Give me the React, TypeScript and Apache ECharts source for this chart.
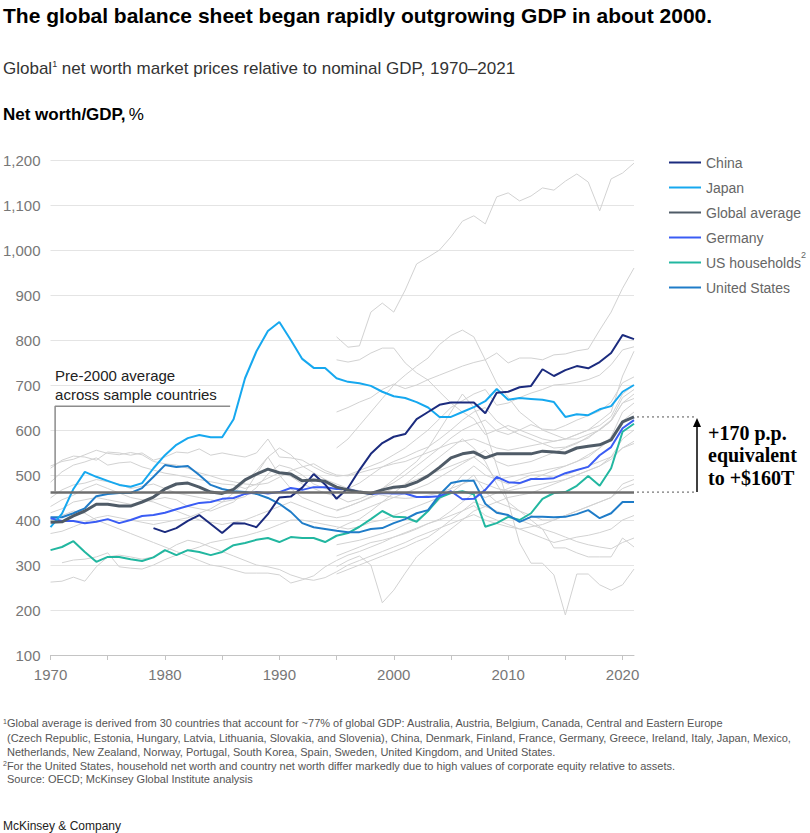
import React, { useEffect, useRef } from 'react';
import * as echarts from 'echarts';

// ---------- data ----------
const START_YEAR = 1970;
const END_YEAR = 2021;

const CHINA_START = 1979;
const CHINA = [382, 373, 382, 398, 411, 391, 371, 393, 392, 384, 413, 450, 452, 472, 502, 479, 447, 471, 511, 547, 571, 585, 591, 624, 640, 656, 661, 661, 661, 637, 683, 685, 695, 698, 735, 720, 733, 742, 737, 751, 771, 811, 802];

const JAPAN = [384, 414, 469, 507, 496, 487, 478, 474, 482, 515, 544, 567, 582, 589, 584, 584, 624, 715, 775, 820, 840, 800, 758, 738, 738, 715, 707, 704, 698, 685, 675, 671, 662, 650, 629, 629, 640, 651, 664, 691, 667, 671, 669, 667, 662, 629, 635, 633, 646, 653, 685, 700];

const GLOBAL_AVG = [395, 396, 409, 420, 435, 435, 431, 431, 440, 451, 469, 480, 482, 473, 462, 459, 468, 489, 502, 513, 505, 502, 487, 489, 486, 473, 467, 462, 459, 467, 473, 475, 484, 498, 517, 538, 547, 551, 538, 547, 547, 547, 547, 553, 551, 549, 560, 564, 567, 578, 618, 629];

const GERMANY = [404, 398, 398, 393, 396, 402, 393, 400, 409, 411, 416, 424, 431, 438, 440, 447, 449, 458, 462, 459, 462, 471, 467, 473, 473, 469, 469, 462, 458, 460, 459, 459, 451, 451, 453, 464, 446, 447, 467, 496, 484, 482, 491, 491, 493, 504, 511, 518, 544, 562, 604, 622];

const US_HOUSEHOLDS = [333, 340, 353, 329, 307, 318, 318, 313, 309, 317, 333, 322, 333, 329, 322, 329, 344, 349, 356, 360, 351, 362, 360, 360, 351, 365, 371, 385, 402, 420, 407, 406, 396, 420, 450, 460, 464, 457, 385, 393, 407, 400, 415, 447, 460, 462, 476, 498, 476, 515, 596, 614];

const UNITED_STATES = [406, 406, 415, 426, 453, 458, 460, 460, 471, 496, 522, 518, 520, 500, 478, 469, 464, 462, 458, 449, 436, 418, 393, 384, 380, 376, 373, 373, 380, 382, 393, 402, 415, 422, 456, 482, 487, 487, 436, 416, 411, 396, 407, 407, 406, 407, 413, 422, 404, 415, 440, 440];

// other sample countries (grey), from 1970
const GREY_FROM_1970 = [
  [515, 533, 542, 540, 533, 551, 549, 544, 549, 533, 540, 551, 549, 558, 544, 549, 544, 540, 549, 580, 540, 538, 533, 518, 505, 497, 500, 510, 520, 530, 545, 560, 580, 600, 625, 650, 665, 680, 690, 655, 660, 672, 682, 690, 700, 702, 706, 712, 722, 745, 778, 785],
  [484, 507, 522, 529, 538, 522, 527, 529, 518, 511, 504, 500, 495, 490, 485, 480, 478, 470, 480, 493, 505, 497, 480, 470, 460, 452, 440, 447, 458, 470, 483, 500, 520, 540, 560, 582, 600, 612, 622, 598, 590, 600, 612, 602, 600, 610, 622, 632, 642, 662, 705, 718],
  [449, 467, 478, 482, 490, 485, 480, 470, 475, 480, 470, 460, 455, 450, 445, 440, 445, 452, 472, 502, 522, 515, 500, 480, 470, 462, 470, 482, 500, 518, 530, 540, 552, 562, 580, 600, 622, 640, 650, 620, 602, 590, 580, 570, 560, 562, 572, 582, 602, 622, 672, 690],
  [416, 425, 440, 445, 450, 445, 440, 435, 440, 445, 450, 445, 430, 425, 420, 430, 440, 462, 502, 540, 500, 470, 450, 440, 430, 422, 430, 440, 450, 460, 470, 480, 490, 500, 510, 520, 530, 540, 520, 490, 480, 490, 500, 500, 495, 500, 510, 520, 530, 540, 560, 570],
  [262, 264, 273, 264, 296, 318, 322, 318, 313, 318, 330, 345, 355, 350, 340, 330, 320, 310, 300, 296, 290, 278, 270, 266, 272, 285, 300, 310, 320, 330, 340, 350, 362, 372, 382, 392, 402, 412, 400, 392, 385, 380, 385, 390, 400, 410, 420, 430, 440, 450, 470, 480],
  [null, 305, 311, 313, 318, 327, 296, 293, 291, 300, 312, 322, 332, 340, 350, 355, 360, 365, 372, 380, 390, 400, 400, 395, 390, 385, 380, 385, 395, 400, 410, 420, 430, 440, 450, 460, 480, 500, 462, 440, 430, 420, 410, 400, 400, 410, 420, 430, 440, 450, 480, 490],
  [400, 410, 420, 415, 400, 390, 380, 370, 360, 350, 340, 330, 320, 310, 300, 296, 289, 282, 282, 282, 278, 260, 267, 276, 296, 310, 322, 330, 340, 350, 362, 370, 380, 392, 400, 410, 420, 432, 410, 400, 390, 380, 370, 360, 350, 356, 362, 366, 372, 380, 400, 410],
  [430, 445, 455, 470, 480, 470, 460, 450, 445, 440, 430, 420, 410, 400, 395, 390, 395, 400, 410, 420, 430, 440, 430, 420, 410, 405, 410, 420, 430, 440, 450, 460, 470, 480, 495, 510, 525, 540, 555, 530, 520, 525, 530, 540, 550, 560, 570, 585, 600, 620, 660, 670],
  [520, 530, 535, 545, 555, 548, 545, 550, 545, 530, 525, 522, 515, 505, 498, 490, 485, 480, 478, 482, 495, 510, 518, 525, 510, 500, 498, 505, 512, 518, 525, 530, 540, 550, 560, 570, 575, 580, 570, 560, 555, 560, 565, 570, 575, 580, 590, 600, 610, 630, 680, 700],
  [370, 375, 385, 395, 405, 410, 405, 400, 395, 390, 395, 400, 405, 415, 425, 440, 460, 485, 510, 540, 560, 545, 520, 505, 490, 480, 470, 465, 460, 455, 450, 448, 450, 455, 460, 470, 480, 490, 480, 470, 465, 470, 475, 480, 485, 490, 500, 510, 520, 535, 560, 575],
];

// other sample countries (grey), from 1995
const GREY_START_1995 = 1995;
const GREY_FROM_1995 = [
  [807, 784, 787, 862, 882, 862, 911, 969, 984, 1000, 1029, 1064, 1076, 1058, 1118, 1127, 1109, 1120, 1138, 1133, 1153, 1169, 1151, 1087, 1158, 1171, 1193],
  [756, 751, 756, 771, 782, 782, 749, 727, 711, 685, 660, 640, 625, 590, 600, 610, 600, 590, 580, 575, 580, 590, 600, 620, 640, 720, 775],
  [560, 580, 610, 640, 670, 700, 722, 742, 760, 790, 810, 822, 807, 756, 704, 673, 640, 620, 600, 590, 580, 580, 590, 600, 620, 660, 680],
  [640, 650, 662, 672, 690, 702, 692, 700, 712, 722, 732, 742, 750, 756, 771, 749, 760, 760, 756, 767, 769, 776, 780, 822, 862, 915, 960],
  [296, 310, 320, 300, 216, 244, 282, 318, 340, 360, 380, 400, 420, 430, 420, 410, 400, 390, 380, 372, 362, 352, 345, 340, 336, 350, 360],
  [420, 430, 440, 452, 470, 490, 510, 530, 560, 600, 640, 680, 650, 600, 520, 440, 349, 304, 304, 278, 189, 280, 280, 256, 244, 256, 291],
  [380, 392, 402, 420, 440, 460, 480, 500, 520, 540, 560, 580, 560, 530, 480, 440, 420, 400, 380, 338, 338, 327, 318, 318, 318, 360, 340],
  [280, 290, 300, 310, 320, 330, 340, 352, 362, 380, 400, 420, 440, 430, 440, 450, 455, 460, 470, 480, 490, 500, 510, 520, 540, 580, 600],
  [320, 330, 340, 350, 355, 362, 372, 382, 392, 402, 420, 440, 460, 450, 460, 470, 480, 490, 500, 510, 520, 530, 540, 560, 580, 620, 640],
  [345, 350, 355, 362, 370, 378, 390, 400, 420, 445, 470, 500, 520, 500, 490, 495, 500, 505, 510, 515, 520, 530, 545, 560, 585, 640, 660],
];

const PRE2000_AVG = 462;
const BRACKET_X = [1970.4, 1985.7];
const BRACKET_TOP = 653;

const Y_MIN = 100;
const Y_MAX = 1200;
const Y_STEP = 100;
const X_TICKS = [1970, 1975, 1980, 1985, 1990, 1995, 2000, 2005, 2010, 2015, 2020];
const X_LABELS = [1970, 1980, 1990, 2000, 2010, 2020];

const LEGEND_NAMES = ['China', 'Japan', 'Global average', 'Germany', 'US households', 'United States'];
const COLORS: Record<string, string> = {
  China: '#1b2b7e',
  Japan: '#16a8ef',
  'Global average': '#4f5b67',
  Germany: '#3a5cf4',
  'US households': '#22b7a0',
  'United States': '#1f7cc8',
};

const FOOTNOTES = [
  '{sup|1}Global average is derived from 30 countries that account for ~77% of global GDP: Australia, Austria, Belgium, Canada, Central and Eastern Europe',
  '(Czech Republic, Estonia, Hungary, Latvia, Lithuania, Slovakia, and Slovenia), China, Denmark, Finland, France, Germany, Greece, Ireland, Italy, Japan, Mexico,',
  'Netherlands, New Zealand, Norway, Portugal, South Korea, Spain, Sweden, United Kingdom, and United States.',
  '{sup|2}For the United States, household net worth and country net worth differ markedly due to high values of corporate equity relative to assets.',
  'Source: OECD; McKinsey Global Institute analysis',
];
const ANNOTATION = ['+170 p.p.', 'equivalent', 'to +$160T'];

const FONT = '"Liberation Sans", Arial, sans-serif';

function pairs(start: number, vals: (number | null)[]) {
  const out: [number, number][] = [];
  vals.forEach((v, i) => {
    if (v !== null) out.push([start + i, v]);
  });
  return out;
}

export default function App() {
  const ref = useRef<HTMLDivElement>(null);

  useEffect(() => {
    if (!ref.current) return;
    const chart = echarts.init(ref.current, null, { renderer: 'svg' });

    const greySeries: any[] = [];
    GREY_FROM_1970.forEach((vals, i) => {
      greySeries.push({
        name: 'g70_' + i,
        type: 'line',
        data: pairs(START_YEAR, vals),
        symbol: 'none',
        silent: true,
        z: 1,
        lineStyle: { color: '#d2d2d2', width: 1 },
      });
    });
    GREY_FROM_1995.forEach((vals, i) => {
      greySeries.push({
        name: 'g95_' + i,
        type: 'line',
        data: pairs(GREY_START_1995, vals),
        symbol: 'none',
        silent: true,
        z: 1,
        lineStyle: { color: '#d2d2d2', width: 1 },
      });
    });

    const main = (name: string, start: number, vals: number[], width: number, z: number) => ({
      name,
      type: 'line',
      data: pairs(start, vals),
      symbol: 'none',
      silent: true,
      z,
      color: COLORS[name],
      lineStyle: { color: COLORS[name], width },
    });

    const option: any = {
      animation: false,
      backgroundColor: '#ffffff',
      grid: { left: 50, right: 176, top: 160, bottom: 178, containLabel: false },
      xAxis: {
        type: 'value',
        min: START_YEAR,
        max: END_YEAR,
        interval: 5,
        axisLine: { show: true, lineStyle: { color: '#c4c4c4', width: 1 } },
        axisTick: { show: true, length: 5, lineStyle: { color: '#c4c4c4' }, customValues: X_TICKS },
        axisLabel: {
          customValues: X_LABELS,
          formatter: (v: number) => String(v),
          color: '#777',
          fontSize: 15,
          fontFamily: FONT,
          margin: 12,
        },
        splitLine: { show: false },
      },
      yAxis: {
        type: 'value',
        min: Y_MIN,
        max: Y_MAX,
        interval: Y_STEP,
        axisLine: { show: false },
        axisTick: { show: false },
        axisLabel: {
          formatter: (v: number) => v.toLocaleString('en-US'),
          color: '#777',
          fontSize: 15,
          fontFamily: FONT,
          margin: 10,
        },
        splitLine: { lineStyle: { color: '#e4e4e4', width: 1 } },
      },
      legend: {
        orient: 'vertical',
        left: 669,
        top: 150,
        padding: 0,
        icon: 'rect',
        itemWidth: 32,
        itemHeight: 2,
        itemGap: 0,
        selectedMode: false,
        data: LEGEND_NAMES,
        formatter: (name: string) => (name === 'US households' ? '{a|US households}{s|2}' : '{a|' + name + '}'),
        textStyle: {
          fontFamily: FONT,
          fontSize: 14,
          color: '#666',
          lineHeight: 25,
          rich: {
            a: { fontFamily: FONT, fontSize: 14, color: '#666', lineHeight: 25 },
            s: { fontFamily: FONT, fontSize: 9, color: '#666', verticalAlign: 'top', lineHeight: 18 },
          },
        },
      },
      series: [
        ...greySeries,
        main('US households', START_YEAR, US_HOUSEHOLDS, 2, 3),
        main('United States', START_YEAR, UNITED_STATES, 2, 3),
        main('Germany', START_YEAR, GERMANY, 2, 3),
        main('Japan', START_YEAR, JAPAN, 2, 3),
        main('China', CHINA_START, CHINA, 2, 3),
        main('Global average', START_YEAR, GLOBAL_AVG, 3, 4),
        {
          name: 'bracket',
          type: 'line',
          data: [
            [BRACKET_X[0], PRE2000_AVG],
            [BRACKET_X[0], BRACKET_TOP],
            [BRACKET_X[1], BRACKET_TOP],
          ],
          symbol: 'none',
          silent: true,
          z: 5,
          lineStyle: { color: '#8c8c8c', width: 1.5 },
          markLine: {
            silent: true,
            symbol: 'none',
            label: { show: false },
            lineStyle: { color: '#6e6e6e', width: 2.5, type: 'solid' },
            data: [{ yAxis: PRE2000_AVG }],
          },
        },
      ],
    };

    chart.setOption(option);

    const toPx = (x: number, y: number) => chart.convertToPixel({ gridIndex: 0 }, [x, y]) as number[];
    const [xEnd, yTop] = toPx(END_YEAR, GLOBAL_AVG[GLOBAL_AVG.length - 1]);
    const [, yBase] = toPx(END_YEAR, PRE2000_AVG);
    const [bx, by] = toPx(BRACKET_X[0], BRACKET_TOP);
    const arrowX = 697;

    const graphics: any[] = [
      {
        type: 'text',
        x: 3,
        y: 15,
        style: { text: 'The global balance sheet began rapidly outgrowing GDP in about 2000.', font: 'bold 21px ' + FONT, fill: '#000', verticalAlign: 'middle' },
      },
      {
        type: 'text',
        x: 3,
        y: 68,
        style: {
          text: 'Global{sup|1} net worth market prices relative to nominal GDP, 1970\u20132021',
          font: '17px ' + FONT,
          fill: '#333',
          verticalAlign: 'middle',
          rich: { sup: { fontSize: 9, fontFamily: FONT, fill: '#333', verticalAlign: 'top', lineHeight: 17 } },
        },
      },
      {
        type: 'text',
        x: 3,
        y: 114,
        style: {
          text: '{b|Net worth/GDP,} {r|%}',
          verticalAlign: 'middle',
          rich: {
            b: { fontSize: 17, fontFamily: FONT, fontWeight: 'bold', fill: '#000' },
            r: { fontSize: 17, fontFamily: FONT, fill: '#000' },
          },
        },
      },
      {
        type: 'text',
        x: bx,
        y: by - 31,
        style: { text: 'Pre-2000 average', font: '15px ' + FONT, fill: '#222', verticalAlign: 'middle' },
      },
      {
        type: 'text',
        x: bx,
        y: by - 12,
        style: { text: 'across sample countries', font: '15px ' + FONT, fill: '#222', verticalAlign: 'middle' },
      },
      {
        type: 'line',
        shape: { x1: xEnd + 3, y1: yTop, x2: arrowX - 3, y2: yTop },
        style: { stroke: '#555', lineWidth: 1, lineDash: [2, 3] },
      },
      {
        type: 'line',
        shape: { x1: xEnd + 3, y1: yBase, x2: arrowX - 3, y2: yBase },
        style: { stroke: '#555', lineWidth: 1, lineDash: [2, 3] },
      },
      {
        type: 'line',
        shape: { x1: arrowX, y1: yBase, x2: arrowX, y2: yTop + 8 },
        style: { stroke: '#000', lineWidth: 1.5 },
      },
      {
        type: 'polygon',
        shape: { points: [[arrowX, yTop + 1], [arrowX - 4, yTop + 10], [arrowX + 4, yTop + 10]] },
        style: { fill: '#000' },
      },
      ...ANNOTATION.map((t, i) => ({
        type: 'text',
        x: 708,
        y: (yTop + yBase) / 2 - 22 + i * 22.5,
        style: { text: t, font: 'bold 20px "Liberation Serif", "DejaVu Serif", serif', fill: '#000', verticalAlign: 'middle' },
      })),
      ...FOOTNOTES.map((t, i) => ({
        type: 'text',
        x: i === 0 || i === 3 ? 3 : 7,
        y: [723, 737.5, 751.5, 765.5, 779][i],
        style: {
          text: t,
          font: '11px ' + FONT,
          fill: '#555',
          verticalAlign: 'middle',
          rich: { sup: { fontSize: 7, fontFamily: FONT, fill: '#555', verticalAlign: 'top', lineHeight: 11 } },
        },
      })),
      {
        type: 'text',
        x: 3,
        y: 826,
        style: { text: 'McKinsey & Company', font: '12px ' + FONT, fill: '#222', verticalAlign: 'middle' },
      },
    ];

    chart.setOption({ graphic: graphics });

    return () => chart.dispose();
  }, []);

  return (
    <div
      ref={ref}
      style={{ position: 'absolute', left: 0, top: 0, width: 810, height: 833, background: '#fff' }}
    />
  );
}
